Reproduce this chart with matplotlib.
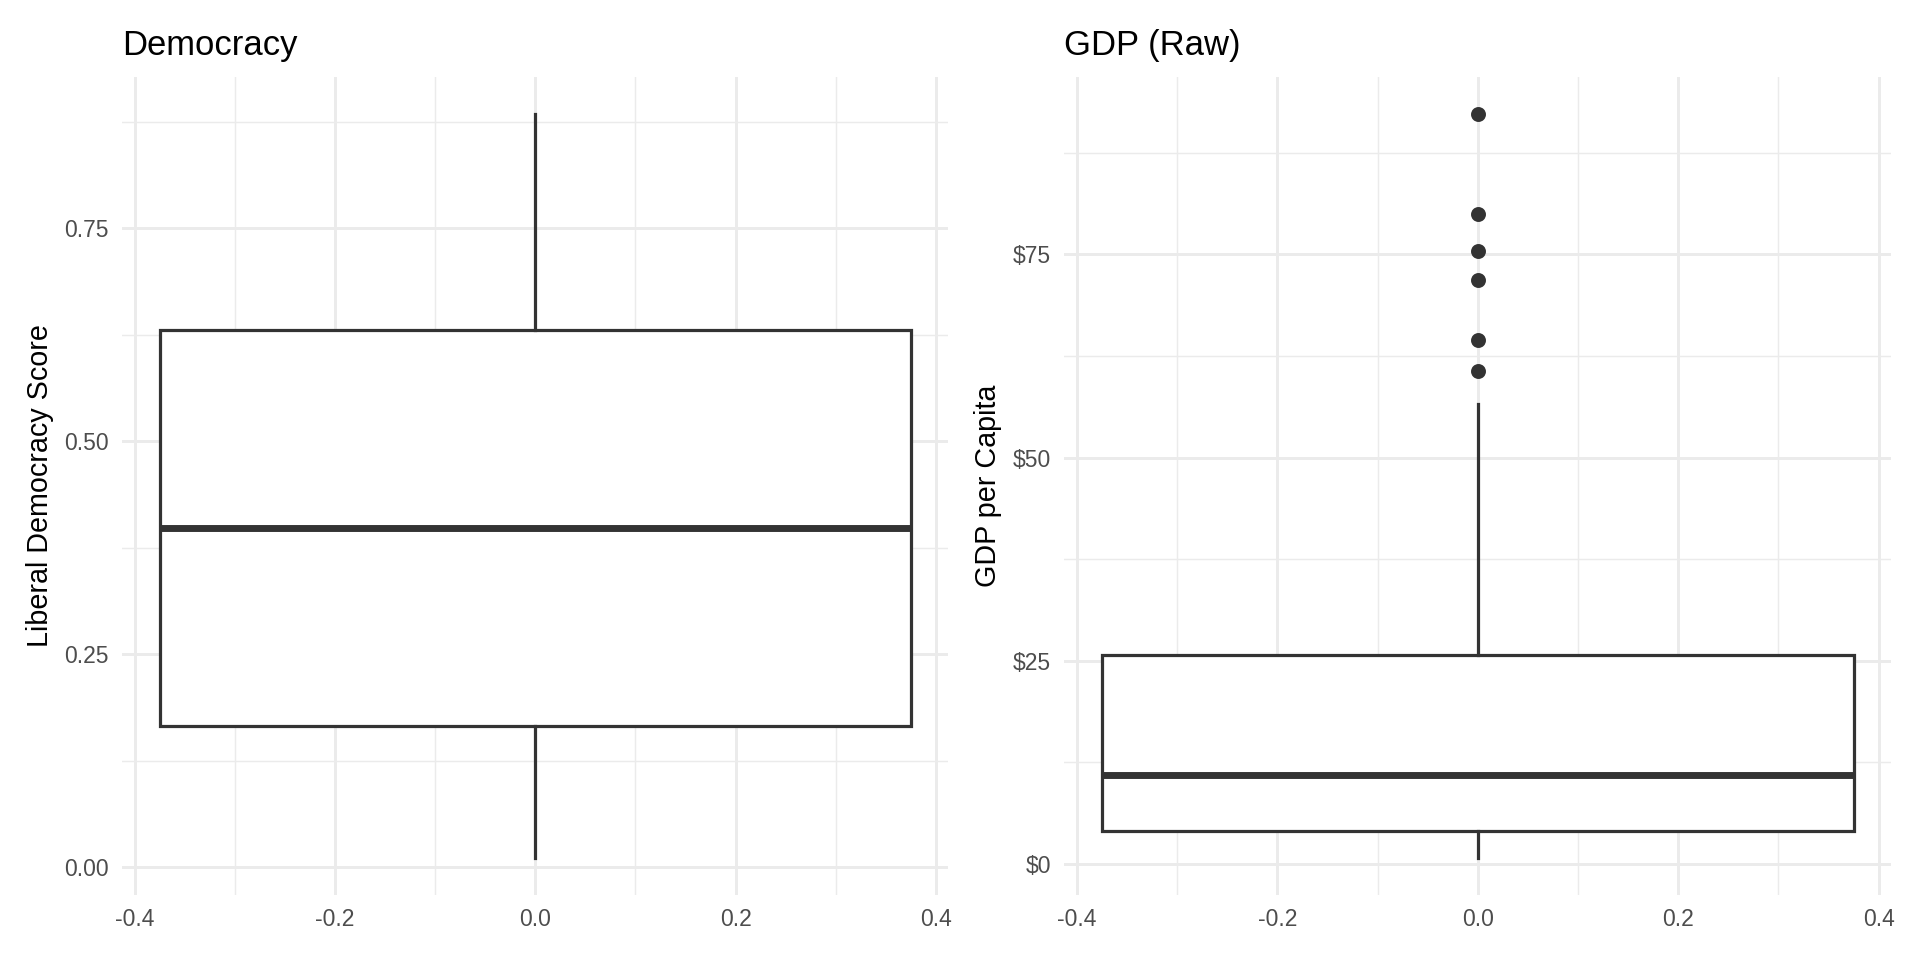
import matplotlib
matplotlib.use("Agg")
import matplotlib.pyplot as plt
from matplotlib.ticker import MultipleLocator, FuncFormatter

plt.rcParams['font.family'] = ['Liberation Sans', 'DejaVu Sans']

# Democracy (Liberal Democracy Score) box statistics
dem_whislo = 0.011
dem_q1 = 0.166
dem_med = 0.398
dem_q3 = 0.631
dem_whishi = 0.8845
dem_fliers = []

# GDP per capita (raw) box statistics
gdp_whislo = 0.75
gdp_q1 = 4.06
gdp_med = 11.0
gdp_q3 = 25.7
gdp_whishi = 56.6
gdp_fliers = [60.6, 64.5, 71.9, 75.4, 80.0, 92.3]

titles = ["Democracy", "GDP (Raw)"]
ylabels = ["Liberal Democracy Score", "GDP per Capita"]
x_ticks = [-0.4, -0.2, 0.0, 0.2, 0.4]

fig = plt.figure(figsize=(10, 5), dpi=192)
ax1 = fig.add_axes([0.06365, 0.06771, 0.4940 - 0.06365, 0.9201 - 0.06771])
ax2 = fig.add_axes([0.5544, 0.06771, 0.9850 - 0.5544, 0.9201 - 0.06771])

GRID = '#EBEBEB'
LINE = '#333333'

def style(ax, title, ylabel, ymaj, ymin_step, fmt):
    ax.set_facecolor('white')
    for s in ax.spines.values():
        s.set_visible(False)
    ax.set_xticks(x_ticks)
    ax.xaxis.set_minor_locator(MultipleLocator(0.1))
    ax.yaxis.set_major_locator(MultipleLocator(ymaj))
    ax.yaxis.set_minor_locator(MultipleLocator(ymin_step))
    ax.yaxis.set_major_formatter(FuncFormatter(fmt))
    ax.xaxis.set_major_formatter(FuncFormatter(lambda v, p: f"{v:.1f}"))
    ax.grid(which='major', color=GRID, linewidth=1.1, zorder=0)
    ax.grid(which='minor', color=GRID, linewidth=0.55, zorder=0)
    ax.set_axisbelow(True)
    ax.tick_params(which='both', length=0, labelsize=8.6, labelcolor='#4D4D4D', pad=5)
    ax.set_title(title, loc='left', fontsize=13, color='black', pad=8)
    ax.set_ylabel(ylabel, fontsize=10.8, color='black', labelpad=4)

def draw(ax, whislo, q1, med, q3, whishi, fliers):
    stats = [dict(med=med, q1=q1, q3=q3, whislo=whislo, whishi=whishi, fliers=fliers)]
    ax.bxp(stats, positions=[0], widths=0.75, showcaps=False, patch_artist=True,
           boxprops=dict(facecolor='white', edgecolor=LINE, linewidth=1.2),
           medianprops=dict(color=LINE, linewidth=2.6, solid_capstyle='butt'),
           whiskerprops=dict(color=LINE, linewidth=1.2),
           flierprops=dict(marker='o', markerfacecolor=LINE, markeredgecolor=LINE,
                           markersize=4.6, linestyle='none'),
           manage_ticks=False, zorder=3)
    lo = min([whislo] + list(fliers))
    hi = max([whishi] + list(fliers))
    r = hi - lo
    ax.set_ylim(lo - 0.05 * r, hi + 0.05 * r)
    ax.set_xlim(-0.375 - 0.05 * 0.75, 0.375 + 0.05 * 0.75)

draw(ax1, dem_whislo, dem_q1, dem_med, dem_q3, dem_whishi, dem_fliers)
draw(ax2, gdp_whislo, gdp_q1, gdp_med, gdp_q3, gdp_whishi, gdp_fliers)

style(ax1, titles[0], ylabels[0], 0.25, 0.125, lambda v, p: f"{v:.2f}")
style(ax2, titles[1], ylabels[1], 25, 12.5, lambda v, p: f"${v:.0f}")

fig.savefig("out.png", dpi=192, facecolor='white')
